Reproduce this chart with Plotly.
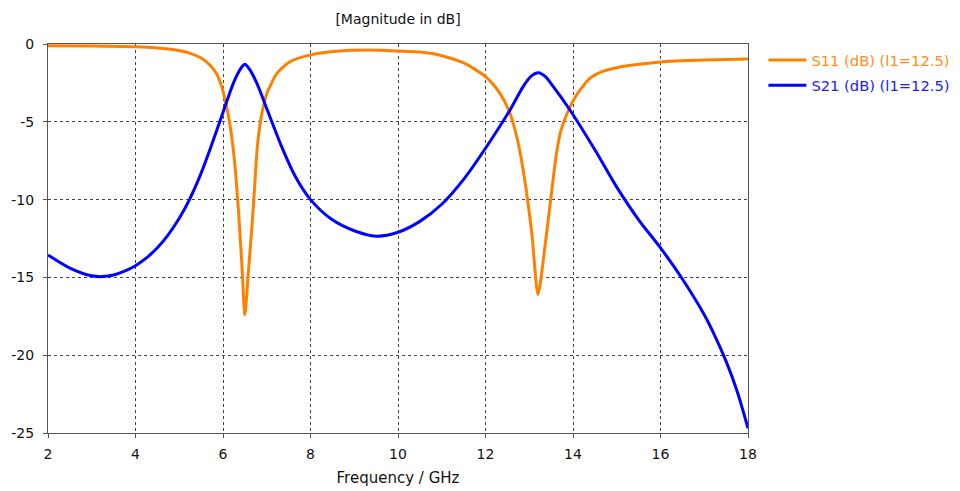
import plotly.graph_objects as go

# ---- data ----
freq_s11 = [2, 3, 4, 4.5, 4.86, 5.25, 5.5, 5.7, 5.85, 5.97, 6.08, 6.16, 6.24, 6.3,
            6.36, 6.43, 6.5, 6.57, 6.66, 6.72, 6.785, 6.88, 7.0, 7.23, 7.53, 8.0,
            8.67, 9.36, 10.0, 10.5, 11.0, 11.5, 12.0, 12.33, 12.56, 12.75, 12.9,
            13.06, 13.2, 13.36, 13.52, 13.63, 13.72, 13.86, 14.08, 14.39, 14.62,
            15.07, 15.37, 16, 17, 18]
s11_db = [-0.12, -0.13, -0.18, -0.25, -0.36, -0.6, -0.9, -1.35, -1.9, -2.74, -4.0,
          -5.2, -6.9, -8.7, -11.0, -14.1, -17.4, -15.0, -11.8, -9.3, -6.6, -4.6,
          -3.2, -1.9, -1.14, -0.7, -0.45, -0.39, -0.45, -0.52, -0.75, -1.22, -2.1,
          -3.17, -4.45, -6.4, -8.8, -12.2, -16.1, -13.0, -9.3, -6.9, -5.6, -4.5,
          -3.28, -2.2, -1.82, -1.48, -1.35, -1.15, -1.03, -0.96]

freq_s21 = [2, 2.5, 3.0, 3.25, 3.5, 3.75, 4.0, 4.25, 4.5, 4.75, 5.0, 5.25, 5.5,
            5.7, 6.0, 6.24, 6.4, 6.5, 6.6, 6.77, 7.0, 7.34, 7.65, 8.0, 8.5, 9.0,
            9.5, 10.0, 10.5, 11.0, 11.5, 12.0, 12.56, 12.86, 13.05, 13.21, 13.37,
            13.55, 13.93, 14.5, 15.0, 15.5, 16.0, 16.5, 17.0, 17.25, 17.5, 17.75,
            18.0]
s21_db = [-13.56, -14.4, -14.9, -14.95, -14.85, -14.6, -14.25, -13.75, -13.1,
          -12.25, -11.2, -9.9, -8.3, -6.8, -4.4, -2.5, -1.6, -1.3, -1.6, -2.5,
          -4.15, -6.6, -8.5, -10.0, -11.3, -12.0, -12.35, -12.1, -11.4, -10.3,
          -8.7, -6.7, -4.24, -2.74, -2.05, -1.85, -2.1, -2.74, -4.24, -6.8, -9.2,
          -11.3, -13.1, -15.1, -17.4, -18.8, -20.4, -22.3, -24.7]

x_ticks = [2, 4, 6, 8, 10, 12, 14, 16, 18]
y_ticks = [0, -5, -10, -15, -20, -25]

name_s11 = "S11 (dB) (l1=12.5)"
name_s21 = "S21 (dB) (l1=12.5)"
col_s11 = "#FF8000"
col_s21 = "#0000FF"

FONT = "DejaVu Sans"

fig = go.Figure()
fig.add_trace(go.Scatter(
    x=freq_s11, y=s11_db, mode="lines",
    line=dict(color=col_s11, width=3, shape="spline", smoothing=0.7),
    name=f"<span style='color:#FF8C1A'>{name_s11}</span>", legendgroup="a"))
fig.add_trace(go.Scatter(
    x=freq_s21, y=s21_db, mode="lines",
    line=dict(color=col_s21, width=3, shape="spline", smoothing=0.8),
    name=f"<span style='color:#2020FF'>{name_s21}</span>", legendgroup="b"))

axis_common = dict(
    showline=True, linecolor="#555555", linewidth=1, mirror=True,
    showgrid=True, gridcolor="#444444", gridwidth=1, griddash="3px,3px",
    ticks="outside", ticklen=4, tickcolor="#555555",
    zeroline=False, automargin=False,
    tickfont=dict(family=FONT, size=14, color="#111111"),
)

fig.update_layout(
    width=960, height=491,
    margin=dict(l=48, r=212, t=44, b=58, autoexpand=False),
    paper_bgcolor="white", plot_bgcolor="white",
    font=dict(family=FONT, size=14, color="#111111"),
    title=dict(text="[Magnitude in dB]", x=398 / 960, xanchor="center",
               y=1 - 19 / 491, yanchor="middle",
               font=dict(family=FONT, size=14, color="#111111")),
    xaxis=dict(range=[2, 18], tickvals=x_ticks, ticktext=[str(v) for v in x_ticks],
               title=dict(text="Frequency / GHz", standoff=11,
                          font=dict(family=FONT, size=15)),
               ticklabelstandoff=4, **axis_common),
    yaxis=dict(range=[-25, 0], tickvals=y_ticks, ticktext=[str(v) for v in y_ticks],
               ticklabelstandoff=6, **axis_common),
    legend=dict(x=1.022, y=1.0, xanchor="left", yanchor="top",
                font=dict(family=FONT, size=14.7), tracegroupgap=3,
                bgcolor="rgba(0,0,0,0)", itemwidth=38),
    showlegend=True,
)

fig.write_html("out.html", config={"displayModeBar": False},
               post_script="document.body.style.margin='0';")
